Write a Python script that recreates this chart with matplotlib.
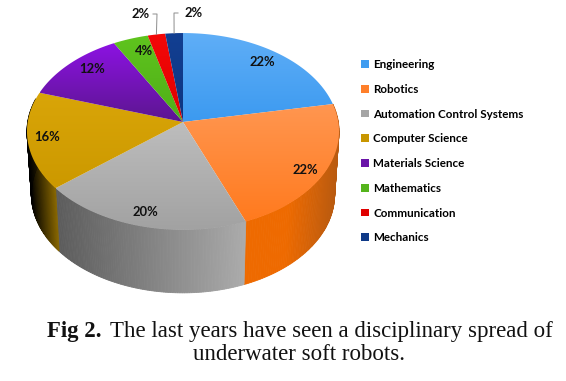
import numpy as np
import matplotlib
matplotlib.use("Agg")
import matplotlib.pyplot as plt
from matplotlib.patches import Polygon, Patch
from matplotlib.colors import to_rgb

categories = ["Engineering", "Robotics", "Automation Control Systems", "Computer Science",
              "Materials Science", "Mathematics", "Communication", "Mechanics"]
values = [22, 22, 20, 16, 12, 4, 2, 2]
value_labels = ["22%", "22%", "20%", "16%", "12%", "4%", "2%", "2%"]

top_light = ["#5FAEF7", "#FF9650", "#BDBDBD", "#D9A508", "#8C12E2", "#5FC41E", "#F40808", "#123F92"]
top_dark = ["#3C9AF0", "#FF7A1E", "#A2A2A2", "#CC9900", "#5C1690", "#4FAE18", "#E00000", "#0E3580"]
legend_colors = ["#3F9CF0", "#FF7F2A", "#A5A5A5", "#C89600", "#6A14A8", "#55B41C", "#E00000", "#0F3A88"]
side_left = {1: "#EE6A00", 2: "#5C5C5C", 3: "#000000"}
side_right = {1: "#B85A10", 2: "#ABABAB", 3: "#8A6800"}
label_pos = [(262, 62), (305, 170), (145, 212), (47, 137), (92, 69), (144, 51), (141, 14), (194, 13)]
legend_anchor = (361, 59)

CX, CY, A, B, K = 183.0, 122.0, 155.3, 97.5, 0.096
DEPTH, SHRINK = 63.0, 0.972


def project(theta, depth=False):
    """Clock angle (radians from 12 o'clock) on the rim -> pixel coordinates."""
    u, v = np.sin(theta), np.cos(theta)
    w = 1 + K * v
    x, y = A * u / w, -B * v / w
    if depth:
        return CX + x * SHRINK, CY + y + DEPTH
    return CX + x, CY + y


fig = plt.figure(figsize=(5.66, 3.81), dpi=100, facecolor="white")
ax = fig.add_axes([0, 0, 1, 1])

edges = np.concatenate([[0], np.cumsum(values)]) / np.sum(values) * 2 * np.pi

# side wall facets
for i in range(len(values)):
    if i not in side_left:
        continue
    angles = np.linspace(edges[i], edges[i + 1], 90)
    angles = angles[(angles > np.pi * 0.42) & (angles < np.pi * 1.58)]
    x_top, y_top = project(angles)
    x_bot, y_bot = project(angles, depth=True)
    x_min, x_max = x_top.min(), x_top.max()
    c_l, c_r = np.array(to_rgb(side_left[i])), np.array(to_rgb(side_right[i]))
    for j in range(len(angles) - 1):
        t = ((x_top[j] + x_top[j + 1]) / 2 - x_min) / (x_max - x_min)
        if i == 1:
            t = max(0, (t - 0.45) / 0.55)
        col = c_l + (c_r - c_l) * t
        ax.add_patch(Polygon([(x_top[j], y_top[j]), (x_top[j + 1], y_top[j + 1]),
                              (x_bot[j + 1], y_bot[j + 1]), (x_bot[j], y_bot[j])],
                             closed=True, facecolor=col, edgecolor=col, lw=0.6, zorder=2))

# top face wedges with vertical gradient
for i in range(len(values)):
    angles = np.linspace(edges[i], edges[i + 1], 80)
    xs, ys = project(angles)
    pts = np.vstack([[CX, CY], np.column_stack([xs, ys])])
    poly = Polygon(pts, closed=True, facecolor="none", edgecolor="none", transform=ax.transData)
    ax.add_patch(poly)
    c1, c2 = np.array(to_rgb(top_light[i])), np.array(to_rgb(top_dark[i]))
    grad = np.linspace(0, 1, 64)[:, None, None] * (c2 - c1)[None, None, :] + c1[None, None, :]
    y0, y1 = pts[:, 1].min(), pts[:, 1].max()
    im = ax.imshow(grad, extent=(pts[:, 0].min(), pts[:, 0].max(), y1, y0),
                   aspect="auto", zorder=3, interpolation="bilinear")
    im.set_clip_path(poly)

# value labels
for text, (lx, ly) in zip(value_labels, label_pos):
    ax.text(lx, ly, text, ha="center", va="center", fontsize=9.4, family="Lato",
            weight="bold", color="#111111", zorder=5)

# leader lines for the two small slices
for i, (ox, ex) in zip((6, 7), ((153, 157), (178, 174))):
    mid = (edges[i] + edges[i + 1]) / 2
    rx, ry = project(mid)
    ly = label_pos[i][1]
    ax.plot([ox, ex, rx], [ly, ly, ry], color="#8C8C8C", lw=0.7, zorder=4)

handles = [Patch(facecolor=c, edgecolor="none") for c in legend_colors]
ax.legend(handles, categories, loc="upper left", bbox_to_anchor=legend_anchor,
          bbox_transform=ax.transData, frameon=False, labelspacing=1.18,
          handlelength=0.65, handleheight=0.65, handletextpad=0.4, borderpad=0.0,
          borderaxespad=0.0, labelcolor="#000000",
          prop={"family": "Lato", "size": 8.4, "weight": "bold"})

# caption
ax.text(47, 331, "Fig 2.", ha="left", va="center", fontsize=16.4, family="Liberation Serif",
        weight="bold", color="#111111")
ax.text(553, 331, "The last years have seen a disciplinary spread of", ha="right", va="center",
        fontsize=16.5, family="Liberation Serif", color="#111111")
ax.text(299, 354, "underwater soft robots.", ha="center", va="center", fontsize=16.5,
        family="Liberation Serif", color="#111111")

ax.set_xlim(0, 566)
ax.set_ylim(381, 0)
ax.axis("off")
fig.savefig("out.png", dpi=100)
